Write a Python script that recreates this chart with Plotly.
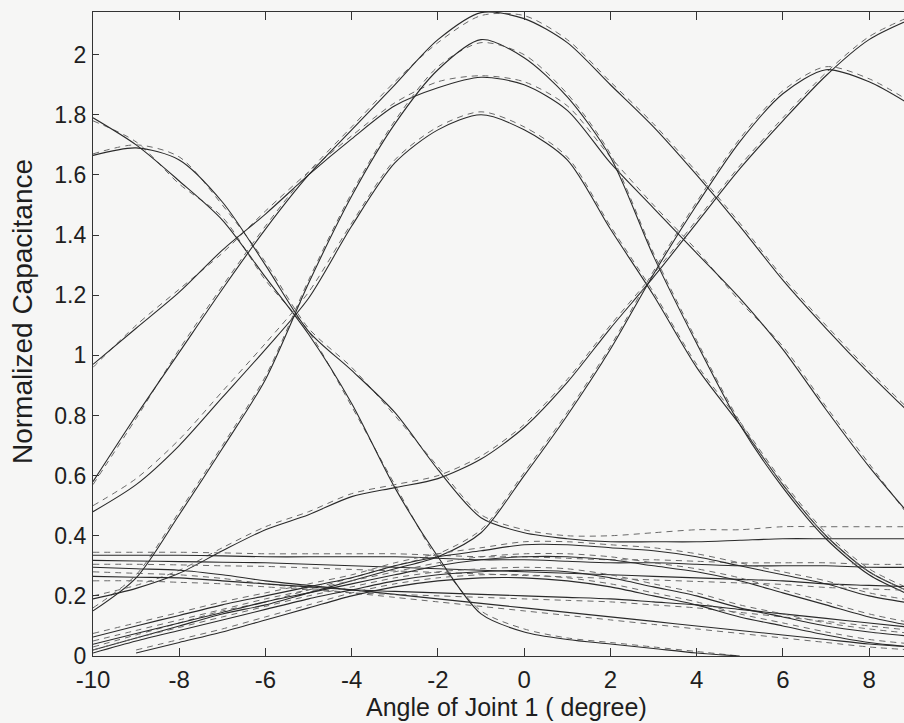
import plotly.graph_objects as go

# x positions (degrees)
angles = [-10, -9, -8, -7, -6, -5, -4, -3, -2, -1, 0, 1, 2, 3, 4, 5, 6, 7, 8, 9]

# large responses (solid = measured, dashed = model)
curve_a_solid = [1.79, 1.70, 1.58, 1.45, 1.26, 1.07, 0.84, 0.56, 0.33, 0.14, 0.08, 0.055, 0.04, 0.025, 0.01, 0.0, None, None, None, None]
curve_a_dash = [1.78, 1.71, 1.57, 1.46, 1.25, 1.08, 0.83, 0.57, 0.32, 0.15, 0.09, 0.06, 0.045, 0.03, 0.015, 0.0, None, None, None, None]
curve_b_solid = [1.665, 1.69, 1.65, 1.51, 1.30, 1.08, 0.95, 0.81, 0.62, 0.46, 0.41, 0.39, 0.38, 0.38, 0.38, 0.385, 0.39, 0.39, 0.39, 0.39]
curve_b_dash = [1.67, 1.70, 1.66, 1.50, 1.31, 1.09, 0.96, 0.80, 0.63, 0.47, 0.42, 0.40, 0.40, 0.41, 0.42, 0.42, 0.43, 0.43, 0.43, 0.43]
curve_c_solid = [0.97, 1.09, 1.21, 1.35, 1.47, 1.60, 1.72, 1.83, 1.89, 1.925, 1.90, 1.815, 1.64, 1.49, 1.34, 1.19, 1.02, 0.82, 0.63, 0.46]
curve_c_dash = [0.96, 1.10, 1.22, 1.34, 1.48, 1.61, 1.73, 1.84, 1.91, 1.93, 1.91, 1.83, 1.66, 1.50, 1.35, 1.18, 1.03, 0.83, 0.64, 0.45]
curve_d_solid = [0.58, 0.80, 1.01, 1.22, 1.42, 1.60, 1.75, 1.90, 2.05, 2.14, 2.12, 2.04, 1.90, 1.76, 1.60, 1.43, 1.25, 1.09, 0.94, 0.80]
curve_d_dash = [0.57, 0.79, 1.02, 1.23, 1.43, 1.61, 1.76, 1.91, 2.04, 2.13, 2.13, 2.05, 1.91, 1.77, 1.61, 1.44, 1.26, 1.10, 0.95, 0.81]
curve_e_solid = [0.48, 0.57, 0.70, 0.86, 1.02, 1.19, 1.43, 1.64, 1.75, 1.80, 1.75, 1.65, 1.42, 1.20, 0.96, 0.77, 0.57, 0.40, 0.28, 0.21]
curve_e_dash = [0.50, 0.59, 0.72, 0.88, 1.04, 1.21, 1.44, 1.65, 1.76, 1.81, 1.76, 1.66, 1.43, 1.21, 0.97, 0.78, 0.58, 0.41, 0.29, 0.22]
curve_f_solid = [0.15, 0.26, 0.47, 0.69, 0.92, 1.24, 1.53, 1.77, 1.95, 2.05, 1.99, 1.86, 1.66, 1.33, 1.04, 0.77, 0.56, 0.39, 0.27, 0.20]
curve_f_dash = [0.16, 0.27, 0.48, 0.70, 0.93, 1.25, 1.54, 1.78, 1.96, 2.04, 2.00, 1.87, 1.67, 1.34, 1.05, 0.78, 0.57, 0.40, 0.28, 0.21]
curve_g_solid = [0.19, 0.225, 0.275, 0.35, 0.42, 0.47, 0.53, 0.56, 0.59, 0.655, 0.76, 0.91, 1.09, 1.26, 1.44, 1.62, 1.78, 1.93, 2.05, 2.12]
curve_g_dash = [0.20, 0.235, 0.285, 0.36, 0.43, 0.48, 0.54, 0.57, 0.60, 0.665, 0.77, 0.92, 1.10, 1.27, 1.45, 1.63, 1.79, 1.94, 2.06, 2.13]
curve_h_solid = [0.02, 0.06, 0.10, 0.14, 0.17, 0.21, 0.25, 0.29, 0.33, 0.41, 0.60, 0.80, 1.02, 1.27, 1.50, 1.71, 1.87, 1.95, 1.91, 1.83]
curve_h_dash = [0.03, 0.07, 0.11, 0.15, 0.18, 0.22, 0.26, 0.30, 0.34, 0.42, 0.61, 0.81, 1.03, 1.28, 1.51, 1.72, 1.88, 1.96, 1.92, 1.84]

# low-level responses
low_1_solid = [0.335, 0.335, 0.335, 0.333, 0.33, 0.33, 0.33, 0.33, 0.325, 0.32, 0.32, 0.315, 0.31, 0.31, 0.305, 0.30, 0.30, 0.30, 0.295, 0.295]
low_1_dash = [0.345, 0.345, 0.345, 0.343, 0.34, 0.34, 0.34, 0.34, 0.335, 0.33, 0.33, 0.325, 0.32, 0.32, 0.315, 0.31, 0.31, 0.31, 0.305, 0.305]
low_2_solid = [0.318, 0.316, 0.314, 0.312, 0.31, 0.305, 0.30, 0.295, 0.29, 0.285, 0.28, 0.275, 0.27, 0.265, 0.26, 0.255, 0.25, 0.24, 0.235, 0.23]
low_2_dash = [0.305, 0.305, 0.303, 0.30, 0.298, 0.293, 0.288, 0.283, 0.278, 0.273, 0.268, 0.263, 0.258, 0.253, 0.248, 0.243, 0.238, 0.228, 0.223, 0.218]
low_3_solid = [0.295, 0.29, 0.285, 0.27, 0.25, 0.235, 0.22, 0.205, 0.19, 0.175, 0.16, 0.145, 0.13, 0.115, 0.10, 0.085, 0.07, 0.055, 0.04, 0.03]
low_3_dash = [0.28, 0.275, 0.27, 0.258, 0.24, 0.225, 0.21, 0.195, 0.18, 0.165, 0.15, 0.135, 0.12, 0.105, 0.09, 0.075, 0.06, 0.045, 0.03, 0.02]
low_4_solid = [0.265, 0.262, 0.26, 0.25, 0.24, 0.23, 0.22, 0.215, 0.21, 0.205, 0.20, 0.195, 0.19, 0.18, 0.17, 0.155, 0.14, 0.125, 0.11, 0.095]
low_4_dash = [0.25, 0.25, 0.245, 0.24, 0.23, 0.22, 0.21, 0.205, 0.20, 0.195, 0.19, 0.185, 0.18, 0.17, 0.16, 0.145, 0.13, 0.115, 0.10, 0.085]
low_5_solid = [0.063, 0.10, 0.135, 0.17, 0.20, 0.23, 0.26, 0.30, 0.33, 0.35, 0.37, 0.37, 0.36, 0.35, 0.33, 0.30, 0.27, 0.24, 0.20, 0.175]
low_5_dash = [0.075, 0.11, 0.145, 0.18, 0.21, 0.24, 0.27, 0.31, 0.34, 0.36, 0.38, 0.38, 0.37, 0.36, 0.34, 0.31, 0.28, 0.25, 0.21, 0.185]
low_6_solid = [0.039, 0.075, 0.11, 0.145, 0.18, 0.21, 0.24, 0.27, 0.30, 0.32, 0.33, 0.33, 0.32, 0.30, 0.28, 0.25, 0.21, 0.17, 0.13, 0.10]
low_6_dash = [0.05, 0.085, 0.12, 0.155, 0.19, 0.22, 0.25, 0.28, 0.31, 0.33, 0.34, 0.34, 0.33, 0.31, 0.29, 0.26, 0.22, 0.18, 0.14, 0.11]
low_7_solid = [0.01, 0.05, 0.085, 0.12, 0.155, 0.19, 0.22, 0.25, 0.27, 0.28, 0.285, 0.28, 0.26, 0.23, 0.20, 0.16, 0.13, 0.10, 0.08, 0.065]
low_7_dash = [0.02, 0.06, 0.095, 0.13, 0.165, 0.20, 0.23, 0.26, 0.28, 0.29, 0.295, 0.29, 0.27, 0.24, 0.21, 0.17, 0.14, 0.11, 0.09, 0.075]
low_8_solid = [None, 0.01, 0.045, 0.08, 0.12, 0.16, 0.20, 0.23, 0.25, 0.26, 0.26, 0.25, 0.23, 0.20, 0.17, 0.13, 0.10, 0.07, 0.045, 0.03]
low_8_dash = [None, 0.02, 0.055, 0.09, 0.13, 0.17, 0.21, 0.24, 0.26, 0.27, 0.27, 0.26, 0.24, 0.21, 0.18, 0.14, 0.11, 0.08, 0.055, 0.04]

x_ticks = [-10, -8, -6, -4, -2, 0, 2, 4, 6, 8]
x_tick_text = ["-10", "-8", "-6", "-4", "-2", "0", "2", "4", "6", "8"]
y_ticks = [0, 0.2, 0.4, 0.6, 0.8, 1, 1.2, 1.4, 1.6, 1.8, 2]
y_tick_text = ["0", "0.2", "0.4", "0.6", "0.8", "1", "1.2", "1.4", "1.6", "1.8", "2"]

pairs = [
    (curve_a_solid, curve_a_dash), (curve_b_solid, curve_b_dash),
    (curve_c_solid, curve_c_dash), (curve_d_solid, curve_d_dash),
    (curve_e_solid, curve_e_dash), (curve_f_solid, curve_f_dash),
    (curve_g_solid, curve_g_dash), (curve_h_solid, curve_h_dash),
    (low_1_solid, low_1_dash), (low_2_solid, low_2_dash),
    (low_3_solid, low_3_dash), (low_4_solid, low_4_dash),
    (low_5_solid, low_5_dash), (low_6_solid, low_6_dash),
    (low_7_solid, low_7_dash), (low_8_solid, low_8_dash),
]

fig = go.Figure()
for solid, dash in pairs:
    fig.add_trace(go.Scatter(x=angles, y=dash, mode="lines", showlegend=False,
                             line=dict(color="#6a6a6a", width=1, dash="6px,5px", shape="spline", smoothing=0.8)))
    fig.add_trace(go.Scatter(x=angles, y=solid, mode="lines", showlegend=False,
                             line=dict(color="#2a2a2a", width=1.1, shape="spline", smoothing=0.8)))

W, H = 904, 723
L, R, T, B = 93, 0, 12, 67
pw, ph = W - L - R, H - T - B

fig.update_layout(
    width=W, height=H,
    margin=dict(l=L, r=R, t=T, b=B),
    paper_bgcolor="#f6f6f5", plot_bgcolor="#f6f6f5",
    font=dict(family="Liberation Sans, Arial, sans-serif", size=24, color="#1e1e1e"),
    xaxis=dict(range=[-10, 8.81], tickvals=x_ticks, ticktext=x_tick_text, ticks="inside", ticklen=8,
               tickcolor="#333", showline=True, linecolor="#333", linewidth=1.2, mirror="ticks",
               showgrid=False, zeroline=False, tickfont=dict(size=24), ticklabelstandoff=2),
    yaxis=dict(range=[0, 2.142], tickvals=y_ticks, ticktext=y_tick_text, ticks="inside", ticklen=6,
               tickcolor="#333", showline=True, linecolor="#333", linewidth=1.2, mirror=False,
               showgrid=False, zeroline=False, tickfont=dict(size=23), ticklabelstandoff=1),
    annotations=[
        dict(text="Angle of Joint 1 ( degree)", xref="paper", yref="paper",
             x=(506 - L) / pw, y=-(707 - (T + ph)) / ph, xanchor="center", yanchor="middle",
             showarrow=False, font=dict(size=25)),
        dict(text="Normalized Capacitance", xref="paper", yref="paper",
             x=(22 - L) / pw, y=(T + ph - 312) / ph, xanchor="center", yanchor="middle",
             textangle=-90, showarrow=False, font=dict(size=28)),
    ],
)

fig.write_html("out.html")
